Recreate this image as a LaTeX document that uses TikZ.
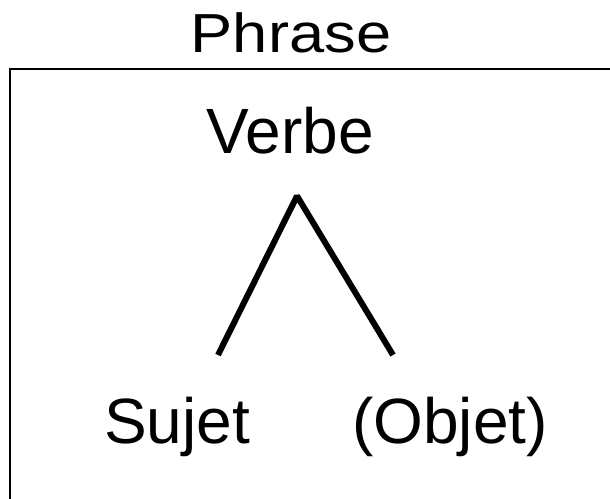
\documentclass[tikz,border=0pt]{standalone}
\usepackage{fontspec}
\setmainfont{Liberation Sans}
\begin{document}
\begin{tikzpicture}[x=1pt,y=-1pt,
  word/.style={inner sep=0pt, anchor=base, font=\fontsize{64}{70}\selectfont},
  title/.style={inner sep=0pt, anchor=base, font=\fontsize{55}{60}\selectfont, xscale=1.15},
  branch/.style={line width=6pt, line join=bevel}]
  \useasboundingbox (0,0) rectangle (610,498);
  % frame of the sentence, open past the page edges
  \draw[line width=2pt] (10,520) -- (10,69) -- (630,69);
  % labels
  \node[title] (phrase) at (291,52) {Phrase};
  \node[word] (verbe) at (290,153) {Verbe};
  \node[word] (sujet) at (177,443) {Sujet};
  \node[word] (objet) at (450,443) {(Objet)};
  % branch points
  \coordinate (apex) at ([shift={(7,43)}]verbe.base);
  \coordinate (sj) at ([shift={(41,-88)}]sujet.base);
  \coordinate (ob) at ([shift={(-57,-88)}]objet.base);
  \draw[branch] (sj) -- (apex) -- (ob);
\end{tikzpicture}
\end{document}
